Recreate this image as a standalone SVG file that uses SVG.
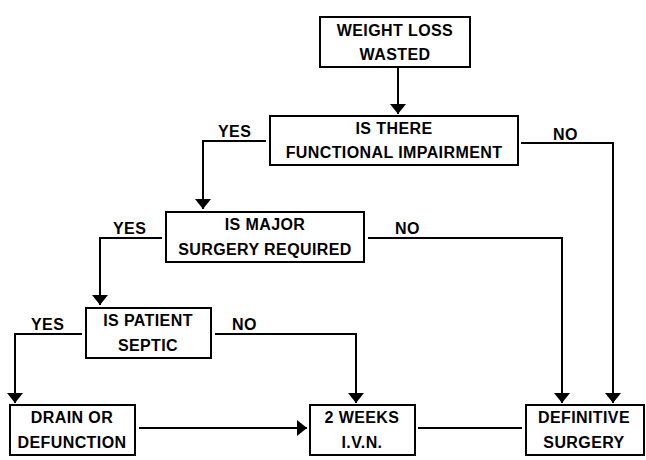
<svg xmlns="http://www.w3.org/2000/svg" width="646" height="460" viewBox="0 0 646 460">
<style>
.box{fill:#fff;stroke:#000;stroke-width:2}
.t{font-family:"Liberation Sans",Arial,sans-serif;font-weight:bold;font-size:16px;letter-spacing:0.4px;text-anchor:middle;fill:#000}
.l{font-family:"Liberation Sans",Arial,sans-serif;font-weight:bold;font-size:16px;letter-spacing:0.4px;fill:#000}
.c{fill:none;stroke:#000;stroke-width:2}
</style>
<defs>
<marker id="ah" markerUnits="userSpaceOnUse" markerWidth="12" markerHeight="18" refX="10" refY="8" orient="auto">
<path d="M0,0 L10,8 L0,16 Z" fill="#000"/>
</marker>
</defs>
<rect width="646" height="460" fill="#fff"/>
<g id="connectors">
<path class="c" d="M398,67 V114" marker-end="url(#ah)"/>
<path class="c" d="M266,141 H203 V209" marker-end="url(#ah)"/>
<path class="c" d="M521,143 H613 V403" marker-end="url(#ah)"/>
<path class="c" d="M162,238 H100 V305" marker-end="url(#ah)"/>
<path class="c" d="M368,238 H562 V403" marker-end="url(#ah)"/>
<path class="c" d="M82,334 H15 V403" marker-end="url(#ah)"/>
<path class="c" d="M215,334 H356 V403" marker-end="url(#ah)"/>
<path class="c" d="M139,428 H307" marker-end="url(#ah)"/>
<path class="c" d="M418,428 H522"/>
<text class="l" x="218" y="137">YES</text>
<text class="l" x="553" y="140">NO</text>
<text class="l" x="113" y="234">YES</text>
<text class="l" x="395" y="234">NO</text>
<text class="l" x="31" y="330">YES</text>
<text class="l" x="232" y="330">NO</text>
</g>
<g id="n1"><rect class="box" x="320" y="17" width="150" height="50"/><text class="t" x="395" y="36">WEIGHT LOSS</text><text class="t" x="395" y="60">WASTED</text></g>
<g id="n2"><rect class="box" x="270" y="116" width="248" height="49"/><text class="t" x="394" y="134">IS THERE</text><text class="t" x="394" y="158">FUNCTIONAL IMPAIRMENT</text></g>
<g id="n3"><rect class="box" x="166" y="212" width="198" height="50"/><text class="t" x="265" y="230">IS MAJOR</text><text class="t" x="265" y="255">SURGERY REQUIRED</text></g>
<g id="n4"><rect class="box" x="86" y="308" width="125" height="50"/><text class="t" x="148" y="326">IS PATIENT</text><text class="t" x="148" y="351">SEPTIC</text></g>
<g id="n5"><rect class="box" x="10" y="405" width="125" height="50"/><text class="t" x="72" y="423">DRAIN OR</text><text class="t" x="72" y="448">DEFUNCTION</text></g>
<g id="n6"><rect class="box" x="310" y="405" width="105" height="50"/><text class="t" x="362" y="423">2 WEEKS</text><text class="t" x="362" y="448">I.V.N.</text></g>
<g id="n7"><rect class="box" x="526" y="405" width="118" height="50"/><text class="t" x="584" y="423">DEFINITIVE</text><text class="t" x="584" y="448">SURGERY</text></g>
</svg>
